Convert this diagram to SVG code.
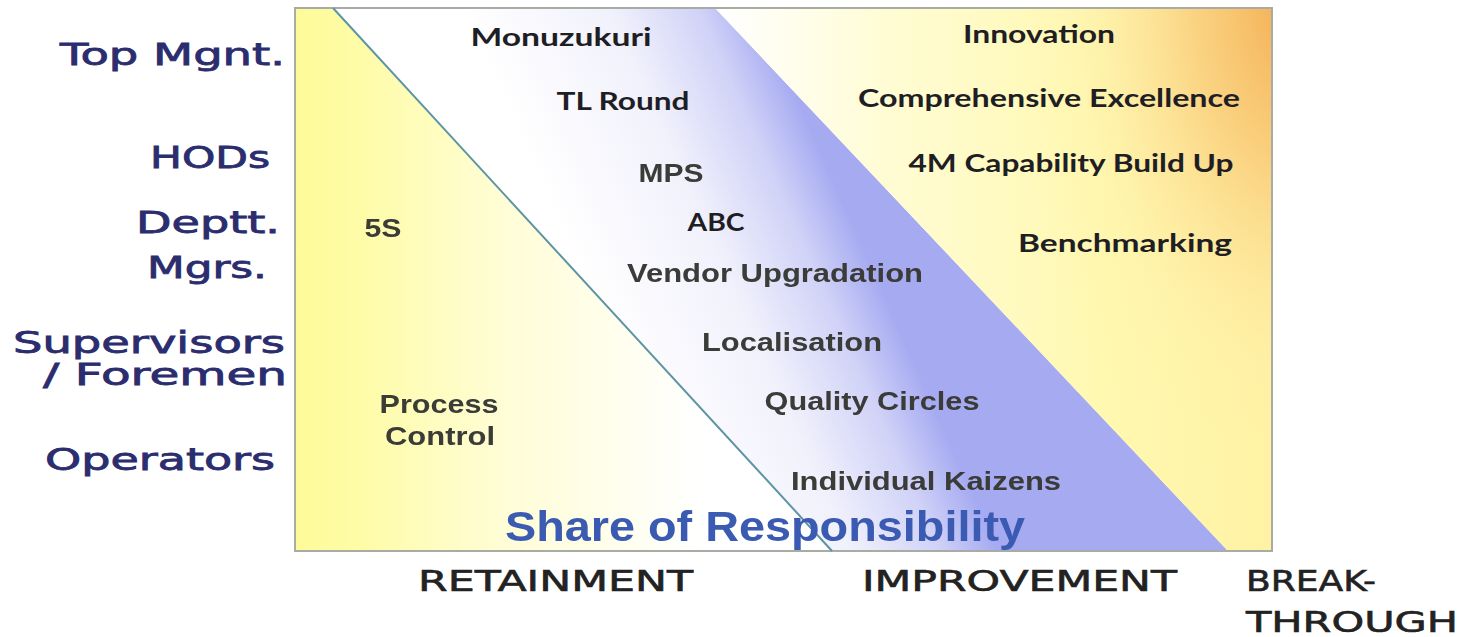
<svg xmlns="http://www.w3.org/2000/svg" width="1461" height="637" viewBox="0 0 1461 637">
  <defs>
    <!-- left zone: yellow fading to white -->
    <linearGradient id="gLeft" gradientUnits="userSpaceOnUse" x1="296" y1="0" x2="700" y2="0">
      <stop offset="0" stop-color="#fdfb98"/>
      <stop offset="0.15" stop-color="#fefca6"/>
      <stop offset="0.5" stop-color="#fffdd4"/>
      <stop offset="1" stop-color="#ffffff"/>
    </linearGradient>
    <!-- middle band: white to periwinkle across the band -->
    <linearGradient id="gMid" gradientUnits="userSpaceOnUse" x1="582" y1="280" x2="830" y2="170">
      <stop offset="0" stop-color="#ffffff"/>
      <stop offset="0.5" stop-color="#f1f1fc"/>
      <stop offset="0.8" stop-color="#d0d2f7"/>
      <stop offset="1" stop-color="#a5aaf1"/>
    </linearGradient>
    <!-- right zone: white to pale yellow -->
    <linearGradient id="gRight" gradientUnits="userSpaceOnUse" x1="720" y1="0" x2="1272" y2="0">
      <stop offset="0" stop-color="#ffffff"/>
      <stop offset="0.3" stop-color="#fffcd4"/>
      <stop offset="0.7" stop-color="#fff8b0"/>
      <stop offset="1" stop-color="#fff2a4"/>
    </linearGradient>
    <!-- warm orange glow in the top-right corner -->
    <radialGradient id="gWarm" gradientUnits="userSpaceOnUse" cx="1300" cy="0" r="500"
                    gradientTransform="translate(1300 0) scale(0.6 1) translate(-1300 0)">
      <stop offset="0" stop-color="#f3a84c" stop-opacity="1"/>
      <stop offset="0.35" stop-color="#f8c470" stop-opacity="0.7"/>
      <stop offset="0.75" stop-color="#fde6a0" stop-opacity="0.15"/>
      <stop offset="1" stop-color="#fff2a0" stop-opacity="0"/>
    </radialGradient>
    <filter id="soft" x="-5%" y="-20%" width="110%" height="140%">
      <feGaussianBlur stdDeviation="0.5"/>
    </filter>
    <style>
      .lvl { font-family: "DejaVu Sans", "Liberation Sans", sans-serif; font-size: 30px; fill: #2b2d6e; stroke: #2b2d6e; stroke-width: 0.8px; text-anchor: end; }
      .cal { font-family: Lato, "Open Sans", sans-serif; font-weight: bold; font-size: 25px; fill: #1e1e24; text-anchor: middle; }
      .ari { font-family: "Liberation Sans", Arial, sans-serif; font-weight: bold; font-size: 25px; fill: #3a3a38; text-anchor: middle; }
      .axis { font-family: "DejaVu Sans", "Liberation Sans", sans-serif; font-size: 29px; fill: #222222; stroke: #222222; stroke-width: 0.6px; }
      .share { font-family: "Liberation Sans", Arial, sans-serif; font-weight: bold; font-size: 42px; fill: #3a5ab2; }
    </style>
  </defs>

  <rect width="1461" height="637" fill="#ffffff"/>

  <!-- chart area -->
  <g id="chart">
    <polygon points="295,8 333,8 832,551 295,551" fill="url(#gLeft)"/>
    <polygon points="333,8 715,8 1228,551 832,551" fill="url(#gMid)"/>
    <polygon points="715,8 1272,8 1272,551 1228,551" fill="url(#gRight)"/>
    <polygon points="715,8 1272,8 1272,551 1228,551" fill="url(#gWarm)"/>
    <rect x="295" y="8" width="977" height="543" fill="none" stroke="#a9aba5" stroke-width="2"/>
  </g>

  <!-- divider between retainment and improvement zones -->
  <g id="connectors">
    <line x1="333" y1="8" x2="832" y2="551" stroke="#5e95a5" stroke-width="2"/>
  </g>

  <!-- hierarchy levels -->
  <g id="level-top"><text class="lvl" x="285" y="65" textLength="225" lengthAdjust="spacingAndGlyphs">Top Mgnt.</text></g>
  <g id="level-hods"><text class="lvl" x="270" y="168" textLength="120" lengthAdjust="spacingAndGlyphs">HODs</text></g>
  <g id="level-mgrs">
    <text class="lvl" x="280" y="233" textLength="144" lengthAdjust="spacingAndGlyphs">Deptt.</text>
    <text class="lvl" x="267" y="278" textLength="120" lengthAdjust="spacingAndGlyphs">Mgrs.</text>
  </g>
  <g id="level-supervisors">
    <text class="lvl" x="285" y="353" textLength="272" lengthAdjust="spacingAndGlyphs">Supervisors</text>
    <text class="lvl" x="287" y="385" textLength="244" lengthAdjust="spacingAndGlyphs">/ Foremen</text>
  </g>
  <g id="level-operators"><text class="lvl" x="275" y="470" textLength="230" lengthAdjust="spacingAndGlyphs">Operators</text></g>

  <!-- retainment activities -->
  <g id="act-5s" filter="url(#soft)"><text class="ari" x="383" y="237" textLength="37" lengthAdjust="spacingAndGlyphs">5S</text></g>
  <g id="act-process-control" filter="url(#soft)">
    <text class="ari" x="439" y="413" textLength="119" lengthAdjust="spacingAndGlyphs">Process</text>
    <text class="ari" x="440" y="445" textLength="110" lengthAdjust="spacingAndGlyphs">Control</text>
  </g>

  <!-- improvement activities -->
  <g id="act-monuzukuri"><text class="cal" x="561" y="46" textLength="181" lengthAdjust="spacingAndGlyphs">Monuzukuri</text></g>
  <g id="act-tl-round"><text class="cal" x="623" y="110" textLength="133" lengthAdjust="spacingAndGlyphs">TL Round</text></g>
  <g id="act-mps" filter="url(#soft)"><text class="ari" x="671" y="182" textLength="65" lengthAdjust="spacingAndGlyphs">MPS</text></g>
  <g id="act-abc"><text class="cal" x="716" y="231" textLength="57" lengthAdjust="spacingAndGlyphs">ABC</text></g>
  <g id="act-vendor" filter="url(#soft)"><text class="ari" x="775" y="282" textLength="296" lengthAdjust="spacingAndGlyphs">Vendor Upgradation</text></g>
  <g id="act-localisation" filter="url(#soft)"><text class="ari" x="792" y="351" textLength="180" lengthAdjust="spacingAndGlyphs">Localisation</text></g>
  <g id="act-quality-circles" filter="url(#soft)"><text class="ari" x="872" y="410" textLength="215" lengthAdjust="spacingAndGlyphs">Quality Circles</text></g>
  <g id="act-kaizens" filter="url(#soft)"><text class="ari" x="926" y="490" textLength="270" lengthAdjust="spacingAndGlyphs">Individual Kaizens</text></g>

  <!-- breakthrough activities -->
  <g id="act-innovation"><text class="cal" x="1039" y="43" textLength="152" lengthAdjust="spacingAndGlyphs">Innovation</text></g>
  <g id="act-excellence"><text class="cal" x="1049" y="107" textLength="382" lengthAdjust="spacingAndGlyphs">Comprehensive Excellence</text></g>
  <g id="act-4m"><text class="cal" x="1071" y="172" textLength="325" lengthAdjust="spacingAndGlyphs">4M Capability Build Up</text></g>
  <g id="act-benchmarking"><text class="cal" x="1125" y="252" textLength="214" lengthAdjust="spacingAndGlyphs">Benchmarking</text></g>

  <!-- axis title and zone names -->
  <g id="axis-title" filter="url(#soft)"><text class="share" x="505" y="541" textLength="520" lengthAdjust="spacingAndGlyphs">Share of Responsibility</text></g>
  <g id="zone-retainment"><text class="axis" x="418" y="591" textLength="275" lengthAdjust="spacingAndGlyphs">RETAINMENT</text></g>
  <g id="zone-improvement"><text class="axis" x="862" y="591" textLength="315" lengthAdjust="spacingAndGlyphs">IMPROVEMENT</text></g>
  <g id="zone-breakthrough">
    <text class="axis" x="1246" y="591" textLength="130" lengthAdjust="spacingAndGlyphs">BREAK-</text>
    <text class="axis" x="1246" y="632" textLength="212" lengthAdjust="spacingAndGlyphs">THROUGH</text>
  </g>
</svg>
